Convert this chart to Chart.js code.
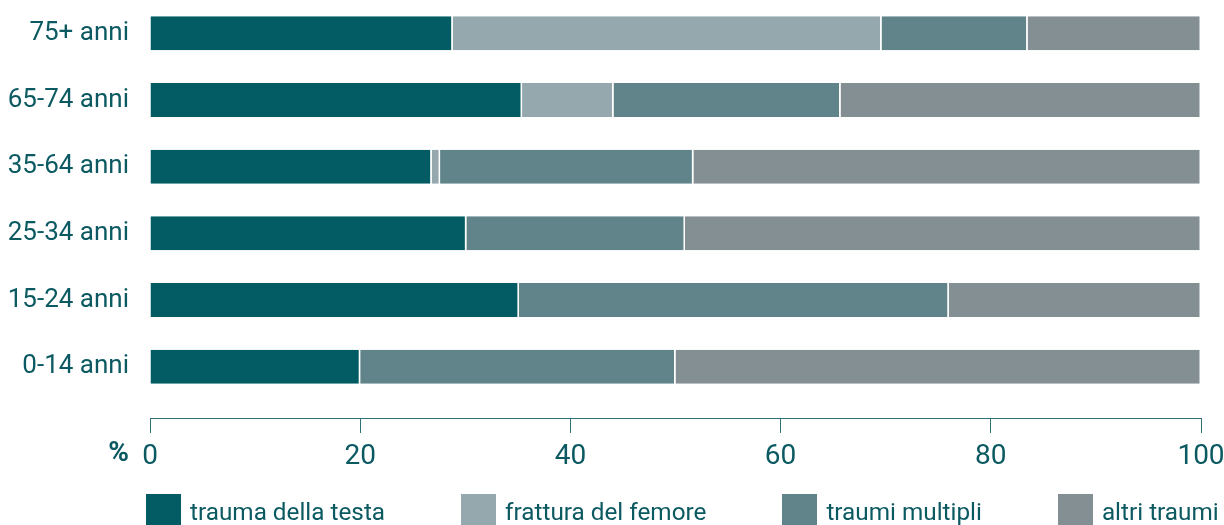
<!DOCTYPE html>
<html lang="it">
<head>
<meta charset="utf-8">
<title>Tipo di trauma per classe di età</title>
<script src="https://cdn.jsdelivr.net/npm/chart.js@4.4.0/dist/chart.umd.min.js"></script>
<style>
  html, body { margin: 0; padding: 0; background: #fff; overflow: hidden; }
  #wrap { position: relative; width: 1224px; height: 525px; }
  #legenda {
    position: absolute; left: 146px; top: 494px; display: flex;
    font-family: Roboto, sans-serif;
    font-size: 24.3px; color: #0b5961; white-space: nowrap;
  }
  #legenda .voce { display: flex; align-items: center; height: 35px; margin-right: 76px; }
  #legenda .box { width: 35px; height: 35px; margin-right: 9px; }
</style>
</head>
<body>
<div id="wrap">
  <canvas id="grafico"></canvas>
  <div id="legenda"></div>
</div>
<script>
// Dati (percentuali per classe di età, dall'alto in basso)
const classi = ['75+ anni', '65-74 anni', '35-64 anni', '25-34 anni', '15-24 anni', '0-14 anni'];
const traumaTesta = [28.8, 35.4, 26.8, 30.1, 35.1, 20.0];
const fratturaFemore = [40.8, 8.7, 0.8, null, null, null];
const traumiMultipli = [13.9, 21.6, 24.1, 20.8, 40.9, 30.0];
const altriTraumi = [16.5, 34.3, 48.3, 49.1, 24.0, 50.0];
const nomiSerie = ['trauma della testa', 'frattura del femore', 'traumi multipli', 'altri traumi'];
const tickX = [0, 20, 40, 60, 80, 100];

const colori = ['#035c63', '#95a8ae', '#61838a', '#848f94'];
const teal = '#0b5961';
const font = 'Roboto, sans-serif';

// Simbolo "%" a sinistra delle etichette dell'asse x
const segnoPercento = {
    id: 'segnoPercento',
    afterDraw(chart) {
        const scalaX = chart.scales.x;
        const ctx = chart.ctx;
        ctx.save();
        ctx.font = 'bold 28px ' + font;
        ctx.fillStyle = teal;
        ctx.textAlign = 'right';
        ctx.textBaseline = 'top';
        ctx.fillText('%', chart.chartArea.left - 21, scalaX.top + 15 + 7);
        ctx.restore();
    }
};

const serie = [traumaTesta, fratturaFemore, traumiMultipli, altriTraumi];

const grafico = new Chart(document.getElementById('grafico'), {
    type: 'bar',
    data: {
        labels: classi,
        datasets: serie.map((valori, i) => ({
            label: nomiSerie[i],
            data: valori,
            backgroundColor: colori[i],
            borderColor: '#ffffff',
            borderWidth: {left: 0, right: 1.5, top: 0, bottom: 0},
            borderSkipped: false,
            barPercentage: 0.51,
            categoryPercentage: 1
        }))
    },
    options: {
        indexAxis: 'y',
        responsive: true,
        maintainAspectRatio: false,
        animation: false,
        layout: {
            padding: {left: 0, right: 23, top: 0, bottom: 53}
        },
        plugins: {
            legend: {display: false},
            tooltip: {enabled: false}
        },
        scales: {
            x: {
                stacked: true,
                min: 0,
                max: 100,
                weight: 1,
                afterBuildTicks: (scala) => {
                    scala.ticks = tickX.map(v => ({value: v}));
                },
                afterFit: (scala) => {
                    scala.height = 54;
                    scala.paddingLeft = 0;
                    scala.paddingRight = 0;
                },
                grid: {
                    drawOnChartArea: false,
                    drawTicks: true,
                    tickLength: 15,
                    color: '#2f6f76',
                    lineWidth: 1
                },
                border: {display: true, color: '#2f6f76', width: 1},
                ticks: {
                    color: teal,
                    padding: 7,
                    font: {family: font, size: 28}
                }
            },
            // spazio vuoto tra le barre e l'asse x
            distacco: {
                axis: 'x',
                type: 'linear',
                position: 'bottom',
                weight: 0,
                afterFit: (scala) => { scala.height = 18; },
                grid: {display: false},
                border: {display: false},
                ticks: {display: false}
            },
            y: {
                stacked: true,
                afterFit: (scala) => {
                    scala.width = 150;
                    scala.paddingTop = 0;
                    scala.paddingBottom = 0;
                },
                grid: {display: false},
                border: {display: false},
                ticks: {
                    color: teal,
                    padding: 13,
                    font: {family: font, size: 26}
                }
            }
        }
    },
    plugins: [segnoPercento]
});

// Legenda HTML costruita dai dataset
const legenda = document.getElementById('legenda');
grafico.data.datasets.forEach(ds => {
    const voce = document.createElement('div');
    voce.className = 'voce';
    const box = document.createElement('span');
    box.className = 'box';
    box.style.background = ds.backgroundColor;
    const testo = document.createElement('span');
    testo.textContent = ds.label;
    voce.appendChild(box);
    voce.appendChild(testo);
    legenda.appendChild(voce);
});
</script>
</body>
</html>
